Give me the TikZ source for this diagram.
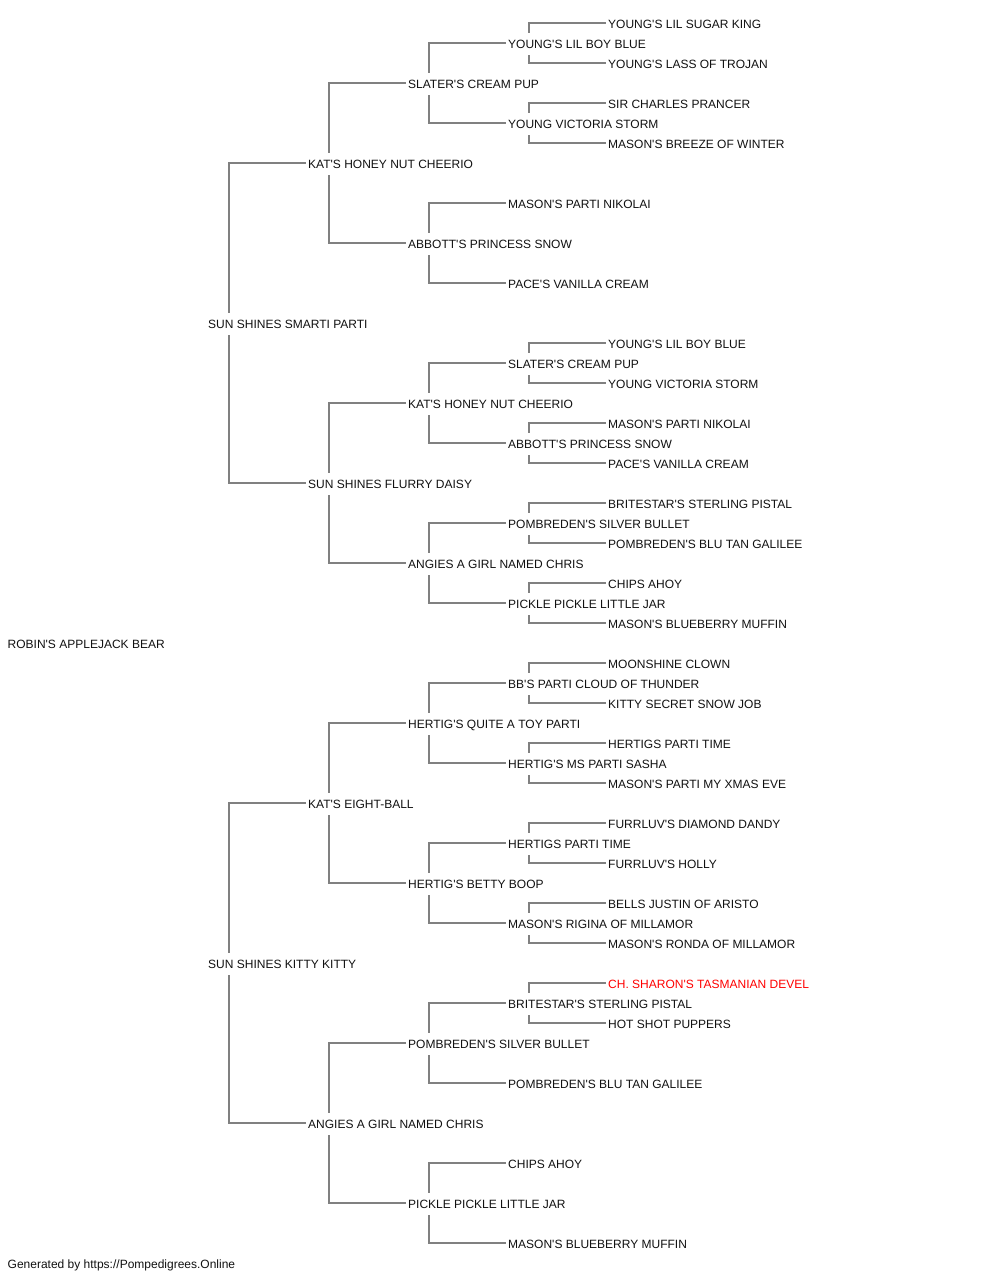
\documentclass[tikz,border=0pt]{standalone}
\usepackage{fontspec}
\setmainfont{Liberation Sans}
\usetikzlibrary{backgrounds}
\newcommand\pq{\textquotesingle}
\definecolor{linegray}{RGB}{128,128,128}
\definecolor{txt}{RGB}{17,17,17}
\definecolor{pedred}{RGB}{255,0,0}
\tikzset{
  dog/.style={anchor=base west, inner xsep=0pt, inner ysep=5pt, text height=10pt, text depth=2pt,
    fill=white, font=\fontsize{12}{14}\selectfont, text=txt},
  champ/.style={dog, text=pedred},
  foot/.style={anchor=base west, inner sep=0pt, font=\fontsize{12}{14}\selectfont, text=txt},
  conn/.style={draw=linegray, line width=2pt}
}
\newcommand\pedline[3]{\draw[conn] ([xshift=-2.5pt,yshift=1.5pt]#2.west) -| ([xshift=20.5pt]#1.west) |- ([xshift=-2.5pt,yshift=1.5pt]#3.west);}
\begin{document}
\begin{tikzpicture}[x=1pt,y=-1pt]
\useasboundingbox (0,0) rectangle (1000,1280);
% root
\node[dog] (r) at (7.5,648) {ROBIN\pq S APPLEJACK BEAR};
% generation 1
\node[dog] (a) at (208,328) {SUN SHINES SMARTI PARTI};
\node[dog] (b) at (208,968) {SUN SHINES KITTY KITTY};
% generation 2
\node[dog] (a1) at (308,168) {KAT\pq S HONEY NUT CHEERIO};
\node[dog] (a2) at (308,488) {SUN SHINES FLURRY DAISY};
\node[dog] (b1) at (308,808) {KAT\pq S EIGHT-BALL};
\node[dog] (b2) at (308,1128) {ANGIES A GIRL NAMED CHRIS};
% generation 3
\node[dog] (a11) at (408,88) {SLATER\pq S CREAM PUP};
\node[dog] (a12) at (408,248) {ABBOTT\pq S PRINCESS SNOW};
\node[dog] (a21) at (408,408) {KAT\pq S HONEY NUT CHEERIO};
\node[dog] (a22) at (408,568) {ANGIES A GIRL NAMED CHRIS};
\node[dog] (b11) at (408,728) {HERTIG\pq S QUITE A TOY PARTI};
\node[dog] (b12) at (408,888) {HERTIG\pq S BETTY BOOP};
\node[dog] (b21) at (408,1048) {POMBREDEN\pq S SILVER BULLET};
\node[dog] (b22) at (408,1208) {PICKLE PICKLE LITTLE JAR};
% generation 4
\node[dog] (a111) at (508,48) {YOUNG\pq S LIL BOY BLUE};
\node[dog] (a112) at (508,128) {YOUNG VICTORIA STORM};
\node[dog] (a121) at (508,208) {MASON\pq S PARTI NIKOLAI};
\node[dog] (a122) at (508,288) {PACE\pq S VANILLA CREAM};
\node[dog] (a211) at (508,368) {SLATER\pq S CREAM PUP};
\node[dog] (a212) at (508,448) {ABBOTT\pq S PRINCESS SNOW};
\node[dog] (a221) at (508,528) {POMBREDEN\pq S SILVER BULLET};
\node[dog] (a222) at (508,608) {PICKLE PICKLE LITTLE JAR};
\node[dog] (b111) at (508,688) {BB\pq S PARTI CLOUD OF THUNDER};
\node[dog] (b112) at (508,768) {HERTIG\pq S MS PARTI SASHA};
\node[dog] (b121) at (508,848) {HERTIGS PARTI TIME};
\node[dog] (b122) at (508,928) {MASON\pq S RIGINA OF MILLAMOR};
\node[dog] (b211) at (508,1008) {BRITESTAR\pq S STERLING PISTAL};
\node[dog] (b212) at (508,1088) {POMBREDEN\pq S BLU TAN GALILEE};
\node[dog] (b221) at (508,1168) {CHIPS AHOY};
\node[dog] (b222) at (508,1248) {MASON\pq S BLUEBERRY MUFFIN};
% generation 5
\node[dog] (a1111) at (608,28) {YOUNG\pq S LIL SUGAR KING};
\node[dog] (a1112) at (608,68) {YOUNG\pq S LASS OF TROJAN};
\node[dog] (a1121) at (608,108) {SIR CHARLES PRANCER};
\node[dog] (a1122) at (608,148) {MASON\pq S BREEZE OF WINTER};
\node[dog] (a2111) at (608,348) {YOUNG\pq S LIL BOY BLUE};
\node[dog] (a2112) at (608,388) {YOUNG VICTORIA STORM};
\node[dog] (a2121) at (608,428) {MASON\pq S PARTI NIKOLAI};
\node[dog] (a2122) at (608,468) {PACE\pq S VANILLA CREAM};
\node[dog] (a2211) at (608,508) {BRITESTAR\pq S STERLING PISTAL};
\node[dog] (a2212) at (608,548) {POMBREDEN\pq S BLU TAN GALILEE};
\node[dog] (a2221) at (608,588) {CHIPS AHOY};
\node[dog] (a2222) at (608,628) {MASON\pq S BLUEBERRY MUFFIN};
\node[dog] (b1111) at (608,668) {MOONSHINE CLOWN};
\node[dog] (b1112) at (608,708) {KITTY SECRET SNOW JOB};
\node[dog] (b1121) at (608,748) {HERTIGS PARTI TIME};
\node[dog] (b1122) at (608,788) {MASON\pq S PARTI MY XMAS EVE};
\node[dog] (b1211) at (608,828) {FURRLUV\pq S DIAMOND DANDY};
\node[dog] (b1212) at (608,868) {FURRLUV\pq S HOLLY};
\node[dog] (b1221) at (608,908) {BELLS JUSTIN OF ARISTO};
\node[dog] (b1222) at (608,948) {MASON\pq S RONDA OF MILLAMOR};
\node[champ] (b2111) at (608,988) {CH. SHARON\pq S TASMANIAN DEVEL};
\node[dog] (b2112) at (608,1028) {HOT SHOT PUPPERS};
% footer
\node[foot] (gen) at (7.5,1268) {Generated by https://Pompedigrees.Online};
% connectors
\begin{pgfonlayer}{background}
\pedline{a}{a1}{a2}
\pedline{b}{b1}{b2}
\pedline{a1}{a11}{a12}
\pedline{a2}{a21}{a22}
\pedline{b1}{b11}{b12}
\pedline{b2}{b21}{b22}
\pedline{a11}{a111}{a112}
\pedline{a12}{a121}{a122}
\pedline{a21}{a211}{a212}
\pedline{a22}{a221}{a222}
\pedline{b11}{b111}{b112}
\pedline{b12}{b121}{b122}
\pedline{b21}{b211}{b212}
\pedline{b22}{b221}{b222}
\pedline{a111}{a1111}{a1112}
\pedline{a112}{a1121}{a1122}
\pedline{a211}{a2111}{a2112}
\pedline{a212}{a2121}{a2122}
\pedline{a221}{a2211}{a2212}
\pedline{a222}{a2221}{a2222}
\pedline{b111}{b1111}{b1112}
\pedline{b112}{b1121}{b1122}
\pedline{b121}{b1211}{b1212}
\pedline{b122}{b1221}{b1222}
\pedline{b211}{b2111}{b2112}
\end{pgfonlayer}
\end{tikzpicture}
\end{document}
